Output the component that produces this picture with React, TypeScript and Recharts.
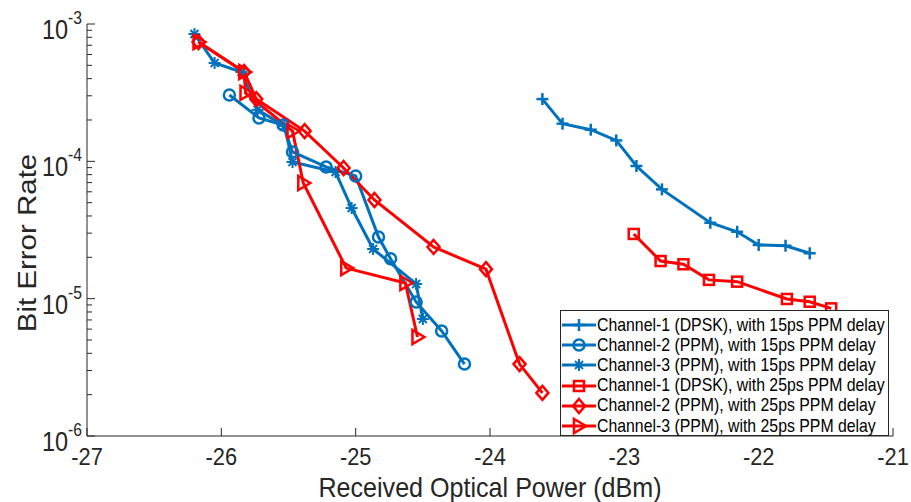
import { Label, Legend, Line, LineChart, XAxis, YAxis } from "recharts";

const BLUE = "#0072BD";
const RED = "#FF0000";
const INK = "#262626";
const FONT = '"Liberation Sans", Arial, Helvetica, sans-serif';
const SQ = 0.87; // text in the picture is a bit narrow

const xTicks = [-27, -26, -25, -24, -23, -22, -21];
const decades = [-6, -5, -4];
const yTicks: number[] = [];
decades.forEach((d) => {
  for (let m = 1; m <= 9; m++) yTicks.push(m * Math.pow(10, d));
});
yTicks.push(1e-3);

// 15ps PPM delay
const c1a_x = [-23.61, -23.46, -23.25, -23.06, -22.91, -22.72, -22.36, -22.16, -22.0, -21.8, -21.62];
const c1a_y = [2.84e-4, 1.88e-4, 1.7e-4, 1.42e-4, 9.25e-5, 6.25e-5, 3.57e-5, 3.07e-5, 2.46e-5, 2.43e-5, 2.14e-5];
const c2a_x = [-25.94, -25.72, -25.54, -25.47, -25.22, -25.0, -24.83, -24.74, -24.55, -24.36, -24.19];
const c2a_y = [3.04e-4, 2.07e-4, 1.84e-4, 1.17e-4, 9.1e-5, 7.82e-5, 2.81e-5, 1.95e-5, 9.46e-6, 5.82e-6, 3.34e-6];
const c3a_x = [-26.2, -26.05, -25.85, -25.73, -25.53, -25.47, -25.15, -25.03, -24.87, -24.55, -24.5];
const c3a_y = [8.45e-4, 5.2e-4, 4.47e-4, 2.37e-4, 1.81e-4, 9.89e-5, 8.36e-5, 4.57e-5, 2.3e-5, 1.28e-5, 7.11e-6];

// 25ps PPM delay
const c1b_x = [-22.93, -22.73, -22.56, -22.37, -22.16, -21.79, -21.62, -21.46];
const c1b_y = [2.96e-5, 1.88e-5, 1.78e-5, 1.37e-5, 1.33e-5, 9.95e-6, 9.5e-6, 8.5e-6];
const c2b_x = [-26.17, -25.83, -25.74, -25.38, -25.09, -24.86, -24.42, -24.03, -23.78, -23.61];
const c2b_y = [7.39e-4, 4.47e-4, 2.84e-4, 1.66e-4, 8.94e-5, 5.23e-5, 2.38e-5, 1.64e-5, 3.34e-6, 2.06e-6];
const c3b_x = [-26.17, -25.83, -25.82, -25.47, -25.39, -25.07, -24.63, -24.54];
const c3b_y = [7.39e-4, 4.47e-4, 3.15e-4, 1.66e-4, 6.95e-5, 1.67e-5, 1.3e-5, 5.26e-6];

const zip = (xs: number[], ys: number[]) => xs.map((x, i) => ({ x, y: ys[i] }));

type Shape = "plus" | "circle" | "star" | "square" | "diamond" | "tri";

const series: { name: string; color: string; shape: Shape; data: { x: number; y: number }[] }[] = [
  { name: "Channel-1 (DPSK), with 15ps PPM delay", color: BLUE, shape: "plus", data: zip(c1a_x, c1a_y) },
  { name: "Channel-2 (PPM), with 15ps PPM delay", color: BLUE, shape: "circle", data: zip(c2a_x, c2a_y) },
  { name: "Channel-3 (PPM), with 15ps PPM delay", color: BLUE, shape: "star", data: zip(c3a_x, c3a_y) },
  { name: "Channel-1 (DPSK), with 25ps PPM delay", color: RED, shape: "square", data: zip(c1b_x, c1b_y) },
  { name: "Channel-2 (PPM), with 25ps PPM delay", color: RED, shape: "diamond", data: zip(c2b_x, c2b_y) },
  { name: "Channel-3 (PPM), with 25ps PPM delay", color: RED, shape: "tri", data: zip(c3b_x, c3b_y) },
];

function Marker({ cx, cy, shape, color }: { cx: number; cy: number; shape: Shape; color: string }) {
  const s = 6;
  const st = { stroke: color, strokeWidth: 2.5, fill: "none" };
  if (shape === "plus")
    return (
      <g {...st}>
        <line x1={cx - s} x2={cx + s} y1={cy} y2={cy} />
        <line x1={cx} x2={cx} y1={cy - s} y2={cy + s} />
      </g>
    );
  if (shape === "star")
    return (
      <g {...st} strokeWidth={2}>
        <line x1={cx - s} x2={cx + s} y1={cy} y2={cy} />
        <line x1={cx} x2={cx} y1={cy - s} y2={cy + s} />
        <line x1={cx - 4} x2={cx + 4} y1={cy - 4} y2={cy + 4} />
        <line x1={cx - 4} x2={cx + 4} y1={cy + 4} y2={cy - 4} />
      </g>
    );
  if (shape === "circle") return <circle cx={cx} cy={cy} r={5.5} {...st} />;
  if (shape === "square") return <rect x={cx - 5} y={cy - 5} width={10} height={10} {...st} />;
  if (shape === "diamond")
    return <polygon points={`${cx},${cy - 7} ${cx + 6},${cy} ${cx},${cy + 7} ${cx - 6},${cy}`} {...st} />;
  return <polygon points={`${cx + 7},${cy} ${cx - 5},${cy - 7} ${cx - 5},${cy + 7}`} {...st} />;
}

const isMajor = (v: number) => Math.abs(Math.log10(v) - Math.round(Math.log10(v))) < 1e-9;

function LeftTick({ x, y, payload }: any) {
  const v = payload.value as number;
  const major = isMajor(v);
  return (
    <g>
      <line x1={x} x2={x + (major ? 8 : 5)} y1={y} y2={y} stroke={INK} />
      {major && (
        <text
          transform={`translate(${x - 5},${y + 15}) scale(${SQ},1)`}
          textAnchor="end"
          fill={INK}
          fontFamily={FONT}
          fontSize={27}
        >
          10
          <tspan dy={-15} fontSize={18}>
            {Math.round(Math.log10(v))}
          </tspan>
        </text>
      )}
    </g>
  );
}

function RightTick({ x, y, payload }: any) {
  const major = isMajor(payload.value);
  return <line x1={x} x2={x - (major ? 8 : 5)} y1={y} y2={y} stroke={INK} />;
}

function BottomTick({ x, y, payload }: any) {
  return (
    <g>
      <line x1={x} x2={x} y1={y} y2={y - 8} stroke={INK} />
      <text
        transform={`translate(${x},${y + 29}) scale(0.95,1)`}
        textAnchor="middle"
        fill={INK}
        fontFamily={FONT}
        fontSize={23}
      >
        {payload.value}
      </text>
    </g>
  );
}

function TopTick({ x, y }: any) {
  return <line x1={x} x2={x} y1={y} y2={y + 8} stroke={INK} />;
}

function LegendBox() {
  return (
    <div
      style={{
        width: 329,
        height: 126,
        boxSizing: "border-box",
        border: `1px solid ${INK}`,
        background: "#fff",
        paddingTop: 4,
        fontFamily: FONT,
        fontSize: 18.2,
        color: "#000",
      }}
    >
      {series.map((s) => (
        <div key={s.name} style={{ display: "flex", alignItems: "center", height: 20.2, whiteSpace: "nowrap" }}>
          <svg width={36} height={20} style={{ flex: "none" }}>
            <line x1={1} x2={35} y1={10} y2={10} stroke={s.color} strokeWidth={3} />
            <Marker cx={18} cy={10} shape={s.shape} color={s.color} />
          </svg>
          <span style={{ display: "inline-block", transform: `scaleX(${SQ})`, transformOrigin: "left center" }}>
            {s.name}
          </span>
        </div>
      ))}
    </div>
  );
}

export default function App() {
  return (
    <div style={{ position: "absolute", left: 0, top: 0, width: 911, height: 502, background: "#fff" }}>
      <LineChart width={911} height={502} margin={{ top: 24, right: 18, bottom: 0, left: 0 }}>
        <XAxis
          xAxisId="b"
          type="number"
          dataKey="x"
          domain={[-27, -21]}
          ticks={xTicks}
          interval={0}
          height={66}
          tickSize={0}
          tickMargin={0}
          tickLine={false}
          axisLine={{ stroke: INK }}
          tick={<BottomTick />}
        >
          <Label
            content={() => (
              <text
                transform="translate(490,497) scale(0.93,1)"
                textAnchor="middle"
                fill={INK}
                fontFamily={FONT}
                fontSize={27}
              >
                Received Optical Power (dBm)
              </text>
            )}
          />
        </XAxis>
        <XAxis
          xAxisId="t"
          orientation="top"
          type="number"
          dataKey="x"
          domain={[-27, -21]}
          ticks={xTicks}
          interval={0}
          height={0}
          tickSize={0}
          tickMargin={0}
          tickLine={false}
          axisLine={{ stroke: INK }}
          tick={<TopTick />}
        />
        <YAxis
          yAxisId="l"
          type="number"
          scale="log"
          domain={[1e-6, 1e-3]}
          allowDataOverflow
          ticks={yTicks}
          interval={0}
          width={87}
          tickSize={0}
          tickMargin={0}
          tickLine={false}
          axisLine={{ stroke: INK }}
          tick={<LeftTick />}
        >
          <Label
            content={() => (
              <text
                transform={`translate(36,243) scale(${SQ},1) rotate(-90)`}
                textAnchor="middle"
                fill={INK}
                fontFamily={FONT}
                fontSize={29.5}
              >
                Bit Error Rate
              </text>
            )}
          />
        </YAxis>
        <YAxis
          yAxisId="r"
          orientation="right"
          type="number"
          scale="log"
          domain={[1e-6, 1e-3]}
          allowDataOverflow
          ticks={yTicks}
          interval={0}
          width={0}
          tickSize={0}
          tickMargin={0}
          tickLine={false}
          axisLine={{ stroke: INK }}
          tick={<RightTick />}
        />
        {series.map((s) => (
          <Line
            key={s.name}
            data={s.data}
            dataKey="y"
            name={s.name}
            xAxisId="b"
            yAxisId="l"
            type="linear"
            stroke={s.color}
            strokeWidth={3}
            isAnimationActive={false}
            activeDot={false}
            dot={(p: any) => (
              <Marker key={`${s.name}-${p.index}`} cx={p.cx} cy={p.cy} shape={s.shape} color={s.color} />
            )}
          />
        ))}
        <Legend
          layout="vertical"
          align="center"
          verticalAlign="middle"
          wrapperStyle={{ position: "absolute", left: 560, top: 310, width: 329 }}
          content={() => <LegendBox />}
        />
      </LineChart>
    </div>
  );
}
